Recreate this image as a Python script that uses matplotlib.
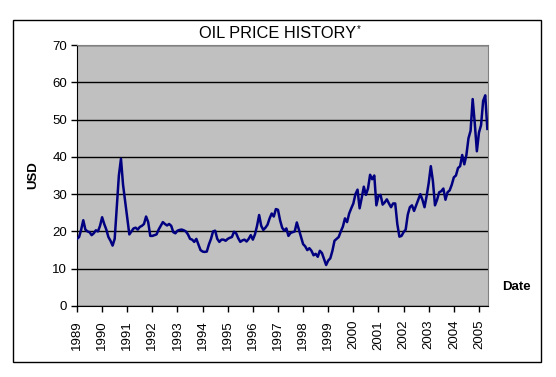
import numpy as np
import matplotlib
matplotlib.use('Agg')
import matplotlib.pyplot as plt
from matplotlib.patches import Rectangle

plt.rcParams['font.family'] = ['Liberation Sans', 'DejaVu Sans']

# monthly oil price (USD), Jan 1989 .. May 2005
price_1989 = [18.0, 18.5, 20.5, 23.0, 20.5, 20.0, 19.8, 19.0, 19.5, 20.3, 20.0, 21.5]
price_1990 = [23.8, 22.0, 20.5, 18.5, 17.5, 16.2, 18.0, 26.5, 35.0, 39.5, 32.5, 28.0]
price_1991 = [23.5, 19.2, 20.0, 20.8, 21.0, 20.5, 21.2, 21.5, 22.0, 24.0, 22.5, 18.8]
price_1992 = [18.8, 19.0, 19.2, 20.5, 21.5, 22.5, 22.0, 21.6, 22.0, 21.5, 19.8, 19.5]
price_1993 = [20.2, 20.4, 20.5, 20.3, 20.0, 19.2, 18.0, 17.8, 17.2, 18.0, 16.5, 15.0]
price_1994 = [14.6, 14.5, 14.6, 16.5, 18.0, 20.0, 20.2, 18.0, 17.2, 17.8, 17.8, 17.5]
price_1995 = [18.0, 18.3, 18.5, 19.9, 19.5, 18.2, 17.2, 17.6, 17.8, 17.3, 18.0, 19.0]
price_1996 = [17.8, 19.2, 21.5, 24.4, 21.5, 20.4, 21.0, 21.8, 23.5, 24.8, 24.0, 26.0]
price_1997 = [25.8, 23.0, 21.0, 20.2, 20.8, 18.8, 19.6, 19.8, 20.0, 22.4, 20.5, 18.5]
price_1998 = [16.6, 16.0, 15.0, 15.5, 14.8, 13.6, 14.0, 13.2, 14.8, 14.2, 12.6, 11.0]
price_1999 = [12.2, 12.8, 14.8, 17.5, 18.0, 18.5, 20.0, 21.3, 23.5, 22.5, 24.8, 26.2]
price_2000 = [27.5, 30.0, 31.2, 26.2, 29.0, 32.0, 29.8, 31.5, 35.2, 34.0, 35.0, 27.0]
price_2001 = [29.5, 29.8, 27.2, 27.8, 28.6, 27.5, 26.5, 27.5, 27.5, 22.0, 18.6, 18.8]
price_2002 = [19.8, 20.5, 24.5, 26.5, 27.0, 25.5, 27.0, 28.5, 30.0, 28.5, 26.5, 29.5]
price_2003 = [33.0, 37.5, 33.5, 27.0, 28.5, 30.5, 30.8, 31.5, 28.5, 30.5, 31.0, 32.5]
price_2004 = [34.5, 35.0, 37.0, 37.5, 40.5, 38.0, 40.5, 45.0, 47.0, 55.5, 49.0, 41.5]
price_2005 = [46.5, 48.5, 55.0, 56.5, 47.5]

prices = (price_1989 + price_1990 + price_1991 + price_1992 + price_1993 +
          price_1994 + price_1995 + price_1996 + price_1997 + price_1998 +
          price_1999 + price_2000 + price_2001 + price_2002 + price_2003 +
          price_2004 + price_2005)
dates = 1989 + np.arange(len(prices)) / 12.0

years = list(range(1989, 2006))
year_labels = [str(y) for y in years]

fig = plt.figure(figsize=(5.56, 3.77), dpi=100)
fig.patch.set_facecolor('white')

ax = fig.add_axes([77 / 556, 1 - 306 / 377, 411 / 556, 261 / 377])
ax.set_facecolor('#C0C0C0')
ax.plot(dates, prices, color='#000080', linewidth=1.8, zorder=3)

ax.set_xlim(1989, 2005.36)
ax.set_ylim(0, 70)
ax.set_yticks(range(0, 71, 10))
ax.set_xticks(years)
ax.set_xticklabels(year_labels, rotation=90, fontsize=9.5)
ax.tick_params(axis='y', labelsize=9.5, length=4, width=1, direction='out', pad=3)
ax.tick_params(axis='x', length=4, width=1, direction='out', pad=6)
ax.yaxis.grid(True, color='black', linewidth=1)
ax.set_axisbelow(True)

for side in ['top', 'right']:
    ax.spines[side].set_color('#808080')
for side in ['left', 'bottom']:
    ax.spines[side].set_color('black')

title = fig.text(0.5, 1 - 33 / 377, 'OIL PRICE HISTORY', ha='center', va='center',
                 fontsize=11.8)
fig.canvas.draw()
bb = title.get_window_extent()
fig.text(bb.x1 / fig.bbox.width + 0.001, 1 - 29 / 377, '*', ha='left', va='center',
         fontsize=7)
fig.text(33 / 556, 1 - 175 / 377, 'USD', rotation=90, ha='center', va='center',
         fontsize=9.5, fontweight='bold')
fig.text(516 / 556, 1 - 287 / 377, 'Date', ha='center', va='center',
         fontsize=9.5, fontweight='bold')

fig.patches.append(Rectangle((13 / 556, 1 - 362 / 377), 528 / 556, 342 / 377,
                             transform=fig.transFigure, fill=False,
                             edgecolor='black', linewidth=1))

fig.savefig('out.png', dpi=100)
